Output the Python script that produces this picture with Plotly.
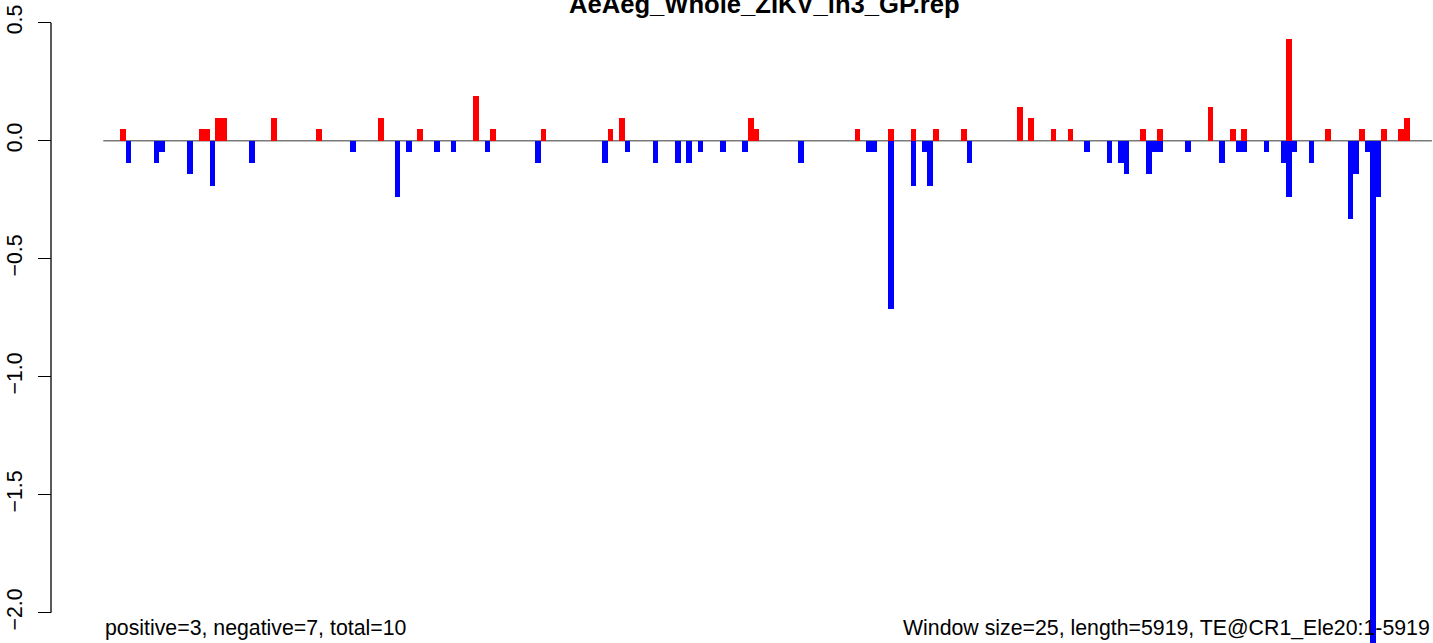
import plotly.graph_objects as go

# ---- data (window index -> value) ----
n_windows = 237
pos_windows = [3, 17, 18, 20, 21, 30, 38, 49, 56, 66, 69, 78, 90, 92, 115, 116, 134, 140,
               144, 148, 153, 163, 165, 169, 172, 185, 188, 197, 201, 203, 211, 218, 224,
               228, 231, 232]
pos_values = [0.048, 0.048, 0.048, 0.095, 0.095, 0.095, 0.048, 0.095, 0.048, 0.19, 0.048,
              0.048, 0.048, 0.095, 0.095, 0.048, 0.048, 0.048, 0.048, 0.048, 0.048, 0.143,
              0.095, 0.048, 0.048, 0.048, 0.048, 0.143, 0.048, 0.048, 0.429, 0.048, 0.048,
              0.048, 0.048, 0.095]
neg_windows = [4, 9, 10, 15, 19, 26, 44, 52, 54, 59, 62, 68, 77, 89, 93, 98, 102, 104, 106,
               110, 114, 124, 136, 137, 140, 144, 146, 147, 154, 175, 179, 181, 182, 186,
               187, 188, 193, 199, 202, 203, 207, 210, 211, 212, 215, 222, 223, 225, 226, 227]
neg_values = [-0.095, -0.095, -0.048, -0.143, -0.19, -0.095, -0.048, -0.238, -0.048, -0.048,
              -0.048, -0.048, -0.095, -0.095, -0.048, -0.095, -0.095, -0.095, -0.048, -0.048,
              -0.048, -0.095, -0.048, -0.048, -0.714, -0.19, -0.048, -0.19, -0.095, -0.048,
              -0.095, -0.095, -0.143, -0.143, -0.048, -0.048, -0.048, -0.095, -0.048, -0.048,
              -0.048, -0.095, -0.238, -0.048, -0.095, -0.333, -0.143, -0.048, -2.2, -0.238]
y_ticks = [0.5, 0.0, -0.5, -1.0, -1.5, -2.0]
y_tick_labels = ["0.5", "0.0", "\u22120.5", "\u22121.0", "\u22121.5", "\u22122.0"]
title_text = "AeAeg_Whole_ZIKV_in3_GP.rep"
left_note = "positive=3, negative=7, total=10"
right_note = "Window size=25, length=5919, TE@CR1_Ele20:1-5919"

W, H = 1433, 643
FONT = "Liberation Sans, Arial, Helvetica, sans-serif"
FS = 21.3

fig = go.Figure()
fig.add_trace(go.Bar(x=[w + 0.5 for w in pos_windows], y=pos_values, width=1,
                     marker=dict(color="#FF0000", line=dict(width=0)), showlegend=False))
fig.add_trace(go.Bar(x=[w + 0.5 for w in neg_windows], y=neg_values, width=1,
                     marker=dict(color="#0000FF", line=dict(width=0)), showlegend=False))

# pixel geometry
px_per_win = 5.606
x0_px = 103.3
y0_px = 140.7
px_per_unit = 236.0
xr = [-x0_px / px_per_win, (W - x0_px) / px_per_win]
yr = [-(H - y0_px) / px_per_unit, y0_px / px_per_unit]
axis_x = 51.0 / W

fig.update_layout(
    width=W, height=H,
    margin=dict(l=0, r=0, t=0, b=0),
    paper_bgcolor="white", plot_bgcolor="white",
    barmode="overlay", bargap=0,
    font=dict(family=FONT, size=FS, color="black"),
    xaxis=dict(range=xr, visible=False, fixedrange=True),
    yaxis=dict(range=yr, anchor="free", position=axis_x, showgrid=False, zeroline=False,
               showline=False, ticks="outside", ticklen=13, tickwidth=1.3, tickcolor="black",
               tickvals=y_ticks, ticktext=y_tick_labels, tickangle=-90, fixedrange=True,
               tickfont=dict(family=FONT, size=FS, color="black"), ticklabelstandoff=7),
    shapes=[
        dict(type="line", xref="paper", yref="y", x0=axis_x, x1=axis_x, y0=-2.0, y1=0.5,
             line=dict(color="black", width=1.3)),
        dict(type="line", xref="x", yref="y", x0=0, x1=n_windows, y0=0, y1=0,
             line=dict(color="#7a7a7a", width=1.4), layer="below"),
    ],
    annotations=[
        dict(text="<b>" + title_text + "</b>", xref="paper", yref="paper",
             x=764.5 / W, y=1 - 20.0 / H, xanchor="center", yanchor="bottom",
             showarrow=False, font=dict(family=FONT, size=25.6, color="black")),
        dict(text=left_note, xref="x", yref="paper", x=0, y=1 - 641.5 / H,
             xanchor="left", yanchor="bottom", showarrow=False,
             font=dict(family=FONT, size=FS, color="black")),
        dict(text=right_note, xref="x", yref="paper", x=n_windows, y=1 - 641.5 / H,
             xanchor="right", yanchor="bottom", showarrow=False,
             font=dict(family=FONT, size=FS, color="black")),
    ],
)

fig.write_html("out.html", config={"displayModeBar": False, "staticPlot": True},
               post_script="document.body.style.margin='0';document.body.style.overflow='hidden';")
